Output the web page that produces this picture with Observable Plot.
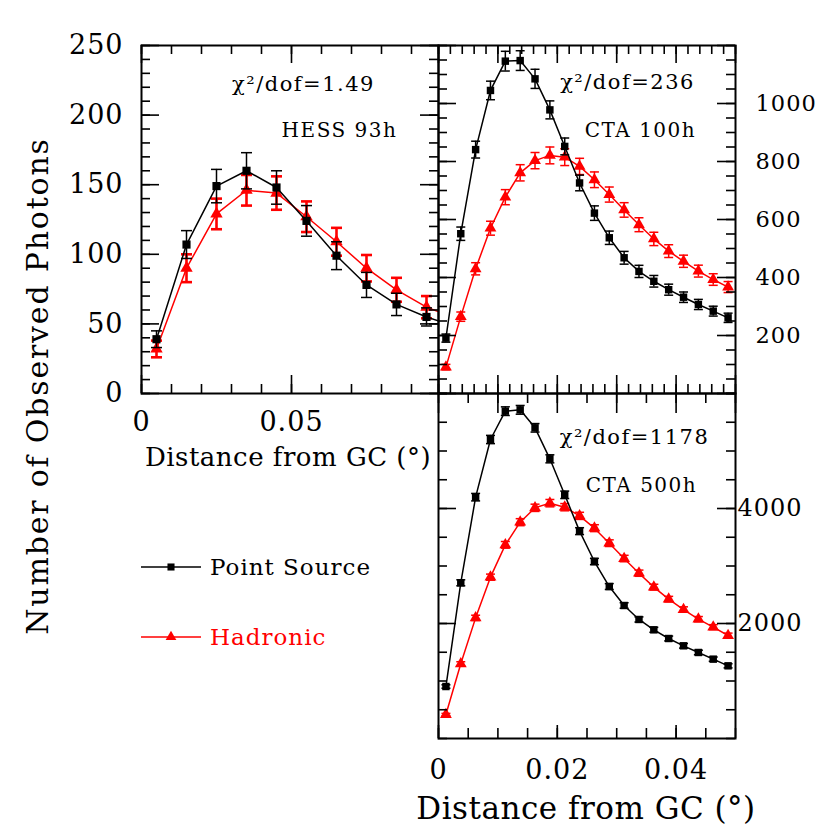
<!DOCTYPE html>
<html>
<head>
<meta charset="utf-8">
<script src="https://cdn.jsdelivr.net/npm/d3@7"></script>
<script src="https://cdn.jsdelivr.net/npm/@observablehq/plot@0.6"></script>
<style>
  body { margin: 0; background: #fff; }
  #root { position: relative; width: 830px; height: 830px; font-family: "DejaVu Serif", serif; color: #000; overflow: hidden; }
  #root svg { position: absolute; left: 0; top: 0; background: transparent !important; overflow: visible; }
  #root svg g[aria-label="text"] text { letter-spacing: 1.5px; }
  #root svg g[aria-label="y-axis tick label"] text, #root svg g[aria-label="x-axis tick label"] text { letter-spacing: 1px; }
  .lbl { position: absolute; white-space: nowrap; line-height: 1; }
</style>
</head>
<body>
<div id="root"></div>
<script>
// ---------- DATA ----------
// HESS 93h panel
const hessX = [0.005, 0.015, 0.025, 0.035, 0.045, 0.055, 0.065, 0.075, 0.085, 0.095];
const hessPoint = [39, 107, 149, 160, 148, 124, 99, 78, 64, 55];
const hessPointErr = [6, 10, 12, 13, 12, 11, 10, 9, 8, 6.5];
const hessHadronic = [32, 90, 129, 146, 144, 127, 109, 90, 74.5, 62];
const hessHadronicErr = [6, 10, 11, 11, 12, 11, 10, 9.5, 8.6, 8];
// continuation of the curves beyond the right edge (clipped)
const hessTailX = 0.105;
const hessPointTail = 48;
const hessHadronicTail = 54;

// CTA panels
const ctaX = [0.00125, 0.00375, 0.00625, 0.00875, 0.01125, 0.01375, 0.01625, 0.01875, 0.02125, 0.02375,
              0.02625, 0.02875, 0.03125, 0.03375, 0.03625, 0.03875, 0.04125, 0.04375, 0.04625, 0.04875];
const cta100Point = [191, 551, 841, 1045, 1146, 1148, 1085, 978, 852, 726, 622, 537, 468, 421, 387, 358, 332, 307, 284, 261];
const cta100PointErr = [14, 23, 29, 32, 34, 34, 33, 31, 29, 27, 25, 23, 22, 21, 20, 19, 18, 17.5, 17, 16];
const cta100Hadronic = [91, 265, 430, 570, 677, 761, 803, 821, 815, 783, 737, 686, 633, 582, 533, 491, 456, 422, 393, 367];
const cta100HadronicErr = [9.5, 16, 21, 24, 26, 28, 28, 29, 29, 28, 27, 26, 25, 24, 23, 22, 21, 20.5, 20, 19];
const cta500Point = [904, 2708, 4197, 5200, 5693, 5716, 5403, 4864, 4238, 3606, 3078, 2643, 2313, 2070, 1890, 1739, 1612, 1496, 1380, 1264];
const cta500PointErr = [30, 52, 65, 72, 75, 76, 74, 70, 65, 60, 55, 51, 48, 45, 43, 42, 40, 39, 37, 36];
const cta500Hadronic = [417, 1299, 2098, 2806, 3368, 3762, 4012, 4093, 4023, 3872, 3658, 3397, 3130, 2875, 2632, 2423, 2243, 2075, 1936, 1791];
const cta500HadronicErr = [20, 36, 46, 53, 58, 61, 63, 64, 63, 62, 60, 58, 56, 54, 51, 49, 47, 46, 44, 42];

// tick labels
const hessYTicks = [0, 50, 100, 150, 200, 250];
const hessXTicks = [0, 0.05];
const cta100YTicks = [200, 400, 600, 800, 1000];
const cta500YTicks = [2000, 4000];
const ctaXTicks = [0, 0.02, 0.04];

// texts
const chi2Labels = ["χ²/dof=1.49", "χ²/dof=236", "χ²/dof=1178"];
const panelLabels = ["HESS 93h", "CTA 100h", "CTA 500h"];
const seriesNames = ["Point Source", "Hadronic"];
const xTitle = "Distance from GC (°)";
const yTitle = "Number of Observed Photons";

// ---------- DRAWING ----------
const W = 830, H = 830;
const root = document.getElementById("root");
const RED = "#ff0000";

const capSymbol = {
  draw(ctx, size) {
    const r = Math.sqrt(size / Math.PI);
    ctx.moveTo(-r, 0);
    ctx.lineTo(r, 0);
  }
};

function rows(xs, ys, errs) {
  return xs.map((x, i) => ({x, y: ys[i], lo: ys[i] - errs[i], hi: ys[i] + errs[i]}));
}

function ticks(side, values, len, f) {
  const fw = f.R - f.L, fh = f.B - f.T;
  const o = {stroke: "black", strokeWidth: 1.6};
  if (side === "left") return Plot.tickY(values, {...o, y: d => d, insetRight: fw - len});
  if (side === "right") return Plot.tickY(values, {...o, y: d => d, insetLeft: fw - len});
  if (side === "bottom") return Plot.tickX(values, {...o, x: d => d, insetTop: fh - len});
  return Plot.tickX(values, {...o, x: d => d, insetBottom: fh - len});
}

function seriesMarks(data, lineData, color, symbol, r, capR, errW, clip) {
  return [
    Plot.line(lineData, {x: "x", y: "y", stroke: color, strokeWidth: 1.5, clip}),
    Plot.ruleX(data, {x: "x", y1: "lo", y2: "hi", stroke: color, strokeWidth: errW, clip}),
    Plot.dot(data, {x: "x", y: "lo", symbol: capSymbol, r: capR, stroke: color, fill: "none", strokeWidth: errW, clip}),
    Plot.dot(data, {x: "x", y: "hi", symbol: capSymbol, r: capR, stroke: color, fill: "none", strokeWidth: errW, clip}),
    Plot.dot(data, {x: "x", y: "y", symbol, r, fill: color, stroke: "none", clip})
  ];
}

function panel(f, xDomain, yDomain, marks) {
  const svg = Plot.plot({
    width: W, height: H,
    marginLeft: f.L, marginRight: W - f.R, marginTop: f.T, marginBottom: H - f.B,
    x: {domain: xDomain, axis: null},
    y: {domain: yDomain, axis: null},
    style: {background: "transparent", overflow: "visible", fontFamily: "DejaVu Serif", color: "black"},
    marks
  });
  root.appendChild(svg);
}

function annot(text, dx, dy, size) {
  return Plot.text([text], {text: d => d, frameAnchor: "top-left", dx, dy, textAnchor: "middle", lineAnchor: "middle", fontSize: size, fill: "black"});
}

// Panel 1: HESS 93h
{
  const f = {L: 141, R: 438, T: 45, B: 393};
  const pData = rows(hessX, hessPoint, hessPointErr);
  const hData = rows(hessX, hessHadronic, hessHadronicErr);
  const pLine = [...pData, {x: hessTailX, y: hessPointTail}];
  const hLine = [...hData, {x: hessTailX, y: hessHadronicTail}];
  const yMinor = d3.range(0, 251, 10);
  const xMinor = d3.range(0, 0.0995, 0.01);
  panel(f, [0, 0.099], [0, 250], [
    ...seriesMarks(hData, hLine, RED, "triangle", 4.6, 5.5, 2.6, true),
    ...seriesMarks(pData, pLine, "black", "square", 4.6, 5.5, 1.5, true),
    ticks("left", yMinor, 9, f), ticks("left", hessYTicks, 18, f),
    ticks("right", yMinor, 9, f), ticks("right", hessYTicks, 18, f),
    ticks("bottom", xMinor, 9, f), ticks("bottom", hessXTicks, 18, f),
    ticks("top", xMinor, 9, f), ticks("top", hessXTicks, 18, f),
    Plot.frame({stroke: "black", strokeWidth: 2}),
    Plot.axisY(hessYTicks, {anchor: "left", tickSize: 0, tickPadding: 18, fontSize: 27, label: null, tickFormat: d => String(d)}),
    Plot.axisX(hessXTicks, {anchor: "bottom", tickSize: 0, tickPadding: 18, fontSize: 27, label: null, tickFormat: d => String(d)}),
    annot(chi2Labels[0], 162, 39, 21),
    annot(panelLabels[0], 198, 85, 20)
  ]);
}

// Panel 2: CTA 100h
{
  const f = {L: 438, R: 735, T: 45, B: 393};
  const pData = rows(ctaX, cta100Point, cta100PointErr);
  const hData = rows(ctaX, cta100Hadronic, cta100HadronicErr);
  const yMinor = d3.range(0, 1201, 50);
  const yMajor = d3.range(0, 1201, 200);
  const xMinor = d3.range(0, 0.0501, 0.002);
  const xMajor = d3.range(0, 0.0501, 0.01);
  panel(f, [0, 0.05], [0, 1200], [
    ...seriesMarks(hData, hData, RED, "triangle", 4.4, 4.5, 1.5, true),
    ...seriesMarks(pData, pData, "black", "square", 4.2, 4.5, 1.5, true),
    ticks("left", yMinor, 9, f), ticks("left", yMajor, 18, f),
    ticks("right", yMinor, 9, f), ticks("right", yMajor, 18, f),
    ticks("bottom", xMinor, 9, f), ticks("bottom", xMajor, 18, f),
    ticks("top", xMinor, 9, f), ticks("top", xMajor, 18, f),
    Plot.frame({stroke: "black", strokeWidth: 2}),
    Plot.axisY(cta100YTicks, {anchor: "right", tickSize: 0, tickPadding: 20, fontSize: 22.5, label: null, tickFormat: d => String(d)}),
    annot(chi2Labels[1], 189, 37, 21),
    annot(panelLabels[1], 202, 85, 20)
  ]);
}

// Panel 3: CTA 500h
{
  const f = {L: 438, R: 735, T: 393, B: 738};
  const pData = rows(ctaX, cta500Point, cta500PointErr);
  const hData = rows(ctaX, cta500Hadronic, cta500HadronicErr);
  const yMinor = d3.range(0, 6001, 500);
  const xMinor = d3.range(0, 0.0501, 0.005);
  const xMajor = d3.range(0, 0.0501, 0.01);
  panel(f, [0, 0.05], [0, 6000], [
    ...seriesMarks(hData, hData, RED, "triangle", 4.4, 4.5, 1.5, true),
    ...seriesMarks(pData, pData, "black", "square", 4.2, 4.5, 1.5, true),
    ticks("left", yMinor, 9, f), ticks("left", cta500YTicks, 18, f),
    ticks("right", yMinor, 9, f), ticks("right", cta500YTicks, 18, f),
    ticks("bottom", xMinor, 10, f), ticks("bottom", ctaXTicks, 13, f),
    ticks("top", xMinor, 10, f), ticks("top", xMajor, 20, f),
    Plot.frame({stroke: "black", strokeWidth: 2}),
    Plot.axisY(cta500YTicks, {anchor: "right", tickSize: 0, tickPadding: 2, fontSize: 24, label: null, tickFormat: d => String(d)}),
    Plot.axisX(ctaXTicks, {anchor: "bottom", tickSize: 0, tickPadding: 21, fontSize: 27, label: null, tickFormat: d => String(d)}),
    annot(chi2Labels[2], 196, 44, 21),
    annot(panelLabels[2], 203, 92, 20)
  ]);
}

// ---------- HTML TEXT: titles & legend ----------
function addLabel(text, cx, cy, size, extra = {}) {
  const d = document.createElement("div");
  d.className = "lbl";
  d.textContent = text;
  d.style.left = cx + "px";
  d.style.top = cy + "px";
  d.style.fontSize = size + "px";
  d.style.transform = "translate(-50%, -50%)" + (extra.rotate ? " rotate(-90deg)" : "");
  if (extra.ls) d.style.letterSpacing = extra.ls + "px";
  if (extra.color) d.style.color = extra.color;
  root.appendChild(d);
}
addLabel(xTitle, 288, 457, 26, {ls: 0.5});
addLabel(xTitle, 586, 808, 31, {ls: 0.5});
addLabel(yTitle, 38, 386, 30, {rotate: true, ls: 1.8});

function legendItem(name, color, marker, cy) {
  const ns = "http://www.w3.org/2000/svg";
  const s = document.createElementNS(ns, "svg");
  s.setAttribute("width", "64"); s.setAttribute("height", "16");
  s.style.position = "absolute"; s.style.left = "140px"; s.style.top = (cy - 8) + "px";
  const ln = document.createElementNS(ns, "line");
  ln.setAttribute("x1", "1"); ln.setAttribute("x2", "61"); ln.setAttribute("y1", "8"); ln.setAttribute("y2", "8");
  ln.setAttribute("stroke", color); ln.setAttribute("stroke-width", "1.5");
  s.appendChild(ln);
  const p = document.createElementNS(ns, "path");
  p.setAttribute("transform", "translate(31,8)");
  p.setAttribute("d", d3.symbol(marker === "square" ? d3.symbolSquare : d3.symbolTriangle, 50)());
  p.setAttribute("fill", color);
  s.appendChild(p);
  root.appendChild(s);
  const d = document.createElement("div");
  d.className = "lbl";
  d.textContent = name;
  d.style.left = "210px";
  d.style.top = cy + "px";
  d.style.fontSize = "23px";
  d.style.letterSpacing = "1px";
  d.style.color = color;
  d.style.transform = "translate(0, -50%)";
  root.appendChild(d);
}
legendItem(seriesNames[0], "black", "square", 567);
legendItem(seriesNames[1], RED, "triangle", 637);
</script>
</body>
</html>
